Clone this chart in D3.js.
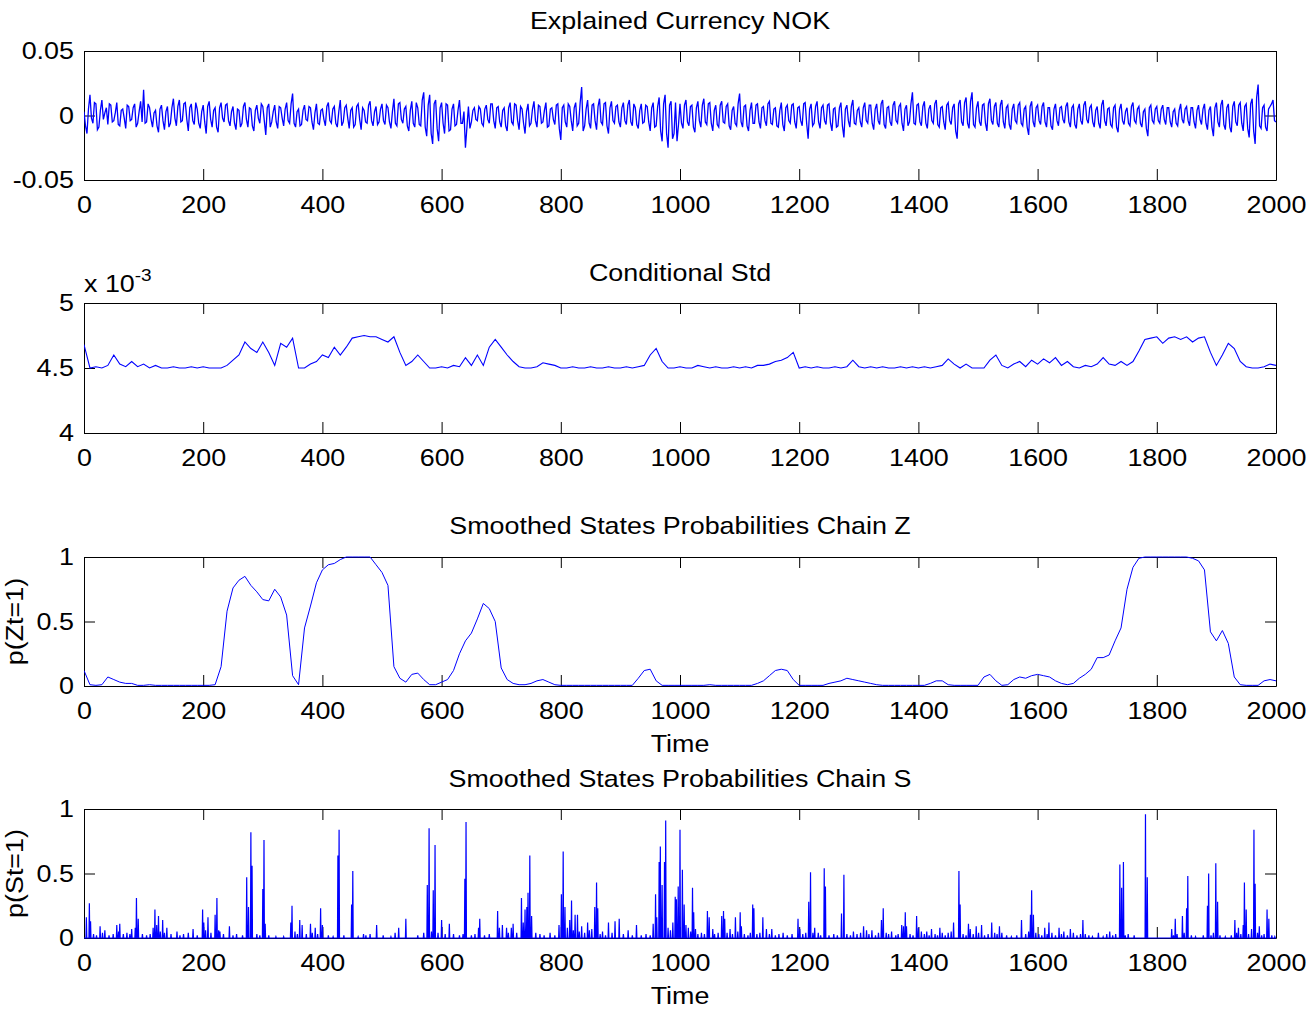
<!DOCTYPE html>
<html lang="en">
<head>
<meta charset="UTF-8">
<title>Explained Currency NOK</title>
<script src="https://cdn.jsdelivr.net/npm/d3@7"></script>
<style>
  body { margin: 0; background: #fff; }
  svg text { font-family: "Liberation Sans", Arial, Helvetica, sans-serif; fill: #000; }
</style>
</head>
<body>
<svg id="chart" width="1314" height="1011"></svg>
<script>
// x axis ticks shared by all panels
const timeTicks = [0, 200, 400, 600, 800, 1000, 1200, 1400, 1600, 1800, 2000];

// Explained currency, values in thousandths, at t = 0, 5, 10 ... 2000
const returnsMilli = [
  3, -14, 16, -6, 9, -9, 12, 2, -7, 8, -4, 10, -8, 5, -10, 7, -3, 9, -6, 11,
  20, -5, 6, -9, 4, -13, 8, -11, 7, -6, 13, -8, 12, -4, 10, -12, 9, -7, 5, -10,
  8, -14, 11, -9, 6, -13, 10, -5, 9, -8, 7, -11, 4, -6, 10, -9, 5, -12, 8, -6,
  7, -15, 9, -5, 8, -10, 6, -8, 10, -6, 17, -9, 5, -7, 8, -4, 6, -11, 9, -7,
  5, -8, 10, -6, 7, -9, 12, -5, 8, -10, 6, -7, 9, -11, 4, -6, 11, -8, 7, -5,
  9, -7, 6, -10, 13, -8, 10, -6, 7, -12, 11, -9, 6, -8, 18, -16, 16, -22, 12, -20,
  10, -14, 8, -11, 9, -7, 12, -6, -25, 7, -5, 6, -4, 5, -8, 8, -6, 9, -10, 7,
  -9, 6, -12, 10, -7, 8, -11, 5, -14, 9, -6, 11, -9, 7, -5, 10, -8, 6, -7, 9,
  -19, 8, -9, 7, -12, 10, -6, 22, -8, 12, -10, 9, -11, 13, -7, 10, -14, 11, -6, 8,
  -9, 10, -7, 12, -8, 6, -10, 9, -5, 7, -12, 10, -8, 14, -20, 16, -25, 11, -14, -20,
  9, -10, 12, -8, 8, -13, 11, -9, 13, -7, 10, -12, 8, -9, 11, -6, 9, -11, 7, -8,
  17, -9, 8, -12, 10, -6, 9, -10, 7, -8, 11, -7, 6, -9, 10, -12, 8, -6, 9, -10,
  7, -8, 10, -18, 9, -6, 11, -10, 8, -7, 9, -12, 6, -8, 10, -17, 8, -9, 12, -7,
  6, -9, 10, -6, 8, -11, 9, -7, 12, -10, 7, -8, 11, -6, 9, -12, 8, -5, 18, -7,
  9, -8, 11, -10, 8, -6, 12, -9, 7, -11, 10, -7, 9, -18, 12, -8, 14, -10, 18, -9,
  11, -8, 9, -12, 13, -7, 10, -9, 12, -10, 8, -11, 9, -6, 10, -8, 7, -15, 11, -9,
  8, -7, 10, -9, 6, -11, 9, -8, 7, -6, 10, -9, 8, -10, 9, -7, 11, -6, 8, -9,
  7, -10, 12, -8, 6, -9, 8, -13, 9, -7, 6, -8, 10, -6, 7, -9, 5, -16, 8, -6,
  7, -6, 8, -7, 6, -9, 5, -8, 9, -6, 7, -8, 6, -10, 8, -7, 9, -11, 7, -16,
  10, -9, 12, -11, 9, -13, 11, -8, 10, -12, 9, -17, 13, -22, 24, -10, 8, -12, 7, 12,
  -5
];

// the samples in between, at t = 2.5, 7.5 ... 1997.5 (thousandths)
const returnsMidMilli = [
  -8, 5, -2, 10, -11, 4, -3, 6, 9, -5, 2, -7, 4, -2, 8, -4, 6, -9, 3, -5,
  -6, 9, -3, 2, -8, 5, -4, 3, -9, 6, -2, 7, -5, 9, -3, 6, -4, 10, -6, 3,
  -5, 7, -3, 4, -9, 6, -2, 8, -4, 3, -6, 5, -9, 7, -3, 6, -8, 4, -2, 9,
  -4, 6, -9, 3, -5, 7, -2, 5, -4, 9, -6, 3, -8, 4, -3, 7, -5, 2, -6, 4,
  -3, 7, -4, 5, -6, 3, -8, 6, -2, 4, -9, 7, -3, 6, -5, 8, -4, 3, -7, 5,
  -4, 8, -5, 3, -6, 9, -3, 5, -8, 4, -6, 10, -7, 12, -9, 8, -14, 9, -10, 6,
  -6, 9, -12, 5, -8, 4, -6, 3, -9, -10, 4, -3, 7, -6, 5, -3, 9, -4, 6, -5,
  4, -8, 6, -5, 9, -4, 7, -6, 3, -8, 5, -4, 8, -6, 4, -9, 5, -3, 8, -10,
  6, -5, 9, -4, 6, -8, 10, -12, 5, -6, 8, -4, 7, -5, 9, -8, 6, -4, 7, -5,
  6, -4, 8, -5, 9, -7, 4, -6, 8, -5, 6, -9, 7, -12, 9, -14, 8, -18, 10, -7,
  -6, 8, -5, 7, -9, 6, -4, 8, -5, 9, -6, 4, -7, 8, -5, 7, -8, 4, -6, 9,
  -5, 7, -8, 4, -6, 8, -5, 6, -4, 9, -6, 5, -8, 4, -7, 6, -4, 8, -5, 6,
  -4, 9, -6, 5, -8, 7, -5, 6, -4, 8, -6, 5, -9, 6, -8, 5, -4, 7, -6, 4,
  -5, 6, -4, 8, -6, 5, -4, 9, -7, 6, -5, 8, -4, 7, -6, 5, -8, 9, -6, 8,
  -5, 7, -6, 5, -4, 9, -7, 6, -5, 8, -4, 6, -12, 9, -5, 10, -6, 11, -7, 6,
  -5, 8, -6, 9, -4, 7, -6, 8, -5, 6, -7, 5, -4, 8, -6, 5, -9, 7, -5, 6,
  -4, 7, -5, 6, -8, 5, -4, 6, -3, 7, -5, 6, -7, 5, -4, 8, -3, 6, -5, 4,
  -6, 8, -4, 5, -7, 6, -9, 5, -4, 3, -6, 7, -4, 5, -6, 3, -10, 6, -4, 5,
  -4, 5, -3, 6, -5, 3, -6, 4, -3, 5, -4, 6, -5, 4, -3, 5, -6, 4, -9, 6,
  -5, 8, -7, 6, -9, 7, -5, 8, -6, 7, -10, 9, -12, 14, -8, 6, -9, 5, 9, -4
];

// Conditional std (x 10^-3), one every 10 steps
const condStd = [
  4.68, 4.50, 4.51, 4.50, 4.52, 4.60, 4.53, 4.51, 4.55, 4.51,
  4.53, 4.50, 4.52, 4.50, 4.50, 4.51, 4.50, 4.50, 4.51, 4.50,
  4.51, 4.50, 4.50, 4.50, 4.52, 4.56, 4.60, 4.70, 4.65, 4.62,
  4.70, 4.62, 4.52, 4.69, 4.66, 4.73, 4.50, 4.50, 4.53, 4.55,
  4.60, 4.58, 4.66, 4.60, 4.66, 4.73, 4.74, 4.75, 4.74, 4.74,
  4.72, 4.70, 4.74, 4.62, 4.52, 4.55, 4.60, 4.55, 4.50, 4.50,
  4.51, 4.50, 4.52, 4.51, 4.58, 4.52, 4.60, 4.52, 4.66, 4.72,
  4.66, 4.60, 4.55, 4.51, 4.50, 4.50, 4.51, 4.54, 4.53, 4.52,
  4.50, 4.50, 4.51, 4.50, 4.50, 4.51, 4.50, 4.50, 4.51, 4.50,
  4.50, 4.51, 4.50, 4.51, 4.52, 4.60, 4.65, 4.55, 4.50, 4.50,
  4.51, 4.50, 4.50, 4.52, 4.51, 4.50, 4.51, 4.50, 4.50, 4.51,
  4.50, 4.51, 4.50, 4.52, 4.52, 4.53, 4.55, 4.56, 4.58, 4.62,
  4.50, 4.51, 4.50, 4.51, 4.50, 4.50, 4.51, 4.50, 4.51, 4.56,
  4.51, 4.50, 4.51, 4.50, 4.51, 4.50, 4.50, 4.51, 4.50, 4.51,
  4.50, 4.51, 4.50, 4.51, 4.52, 4.57, 4.53, 4.50, 4.53, 4.50,
  4.50, 4.50, 4.56, 4.60, 4.52, 4.50, 4.53, 4.55, 4.51, 4.56,
  4.53, 4.57, 4.54, 4.58, 4.52, 4.55, 4.51, 4.50, 4.52, 4.51,
  4.53, 4.58, 4.53, 4.52, 4.55, 4.52, 4.55, 4.63, 4.72, 4.73,
  4.74, 4.69, 4.73, 4.74, 4.72, 4.74, 4.70, 4.73, 4.74, 4.62,
  4.52, 4.60, 4.69, 4.65, 4.55, 4.51, 4.50, 4.50, 4.51, 4.53,
  4.52
];

// Smoothed p(Zt=1), one every 10 steps
const probZ = [
  0.12, 0.01, 0.005, 0.01, 0.07, 0.05, 0.03, 0.02, 0.02, 0.005,
  0.005, 0.01, 0.005, 0.005, 0.005, 0.005, 0.005, 0.005, 0.005, 0.005,
  0.005, 0.005, 0.01, 0.15, 0.58, 0.76, 0.82, 0.85, 0.78, 0.73,
  0.67, 0.66, 0.75, 0.69, 0.55, 0.08, 0.01, 0.45, 0.62, 0.80,
  0.90, 0.94, 0.95, 0.98, 1.0, 1.0, 1.0, 1.0, 1.0, 0.94,
  0.88, 0.78, 0.15, 0.06, 0.03, 0.09, 0.10, 0.05, 0.01, 0.01,
  0.03, 0.05, 0.12, 0.25, 0.35, 0.41, 0.52, 0.64, 0.60, 0.50,
  0.14, 0.05, 0.02, 0.01, 0.01, 0.02, 0.04, 0.05, 0.03, 0.01,
  0.005, 0.005, 0.005, 0.005, 0.005, 0.005, 0.005, 0.005, 0.005, 0.005,
  0.005, 0.005, 0.005, 0.06, 0.12, 0.13, 0.04, 0.005, 0.005, 0.005,
  0.005, 0.005, 0.005, 0.005, 0.005, 0.01, 0.005, 0.005, 0.005, 0.005,
  0.005, 0.005, 0.005, 0.02, 0.04, 0.08, 0.12, 0.13, 0.12, 0.05,
  0.005, 0.005, 0.005, 0.005, 0.005, 0.02, 0.03, 0.04, 0.06, 0.05,
  0.04, 0.03, 0.02, 0.01, 0.005, 0.005, 0.005, 0.005, 0.005, 0.005,
  0.005, 0.005, 0.02, 0.04, 0.04, 0.01, 0.005, 0.005, 0.005, 0.005,
  0.005, 0.07, 0.09, 0.04, 0.005, 0.01, 0.05, 0.07, 0.06, 0.08,
  0.09, 0.08, 0.07, 0.04, 0.02, 0.01, 0.02, 0.06, 0.09, 0.13,
  0.22, 0.22, 0.24, 0.35, 0.45, 0.75, 0.92, 0.99, 1.0, 1.0,
  1.0, 1.0, 1.0, 1.0, 1.0, 1.0, 0.99, 0.97, 0.90, 0.42,
  0.35, 0.43, 0.33, 0.07, 0.01, 0.005, 0.005, 0.005, 0.04, 0.05,
  0.04
];

// Smoothed p(St=1): [time, probability] for the non-zero spikes
const spikesS = [
  [4,.16],[9,.27],[11,.13],[16,.03],[21,.02],[27,.09],[31,.04],[35,.06],[42,.02],[49,.03],
  [55,.1],[58,.05],[60,.11],[66,.03],[72,.04],[77,.03],[80,.07],[86,.08],[88,.31],[91,.15],
  [98,.03],[105,.02],[111,.03],[116,.08],[119,.22],[122,.1],[125,.17],[128,.05],[132,.14],[135,.04],
  [139,.08],[146,.03],[156,.05],[161,.02],[167,.03],[175,.04],[183,.07],[190,.02],[199,.22],[201,.12],
  [204,.06],[208,.16],[213,.04],[220,.18],[223,.31],[226,.06],[228,.05],[234,.03],[244,.09],[250,.02],
  [256,.03],[266,.02],[273,.47],[276,.24],[280,.82],[282,.56],[290,.03],[295,.02],[300,.38],[302,.76],
  [304,.11],[310,.02],[322,.01],[335,.01],[347,.12],[349,.25],[354,.05],[358,.03],[362,.14],[366,.1],
  [373,.03],[380,.11],[383,.04],[388,.08],[392,.03],[397,.23],[400,.1],[410,.02],[418,.01],[426,.64],
  [428,.84],[436,.02],[449,.26],[451,.52],[460,.01],[469,.03],[473,.02],[480,.03],[491,.1],[502,.02],
  [515,.01],[522,.04],[528,.08],[540,.15],[560,.02],[570,.04],[576,.41],[579,.85],[583,.05],[586,.37],
  [589,.72],[594,.04],[600,.14],[606,.03],[613,.11],[620,.03],[630,.02],[636,.03],[639,.46],[641,.9],
  [650,.02],[656,.03],[662,.08],[664,.15],[672,.02],[680,.03],[694,.21],[697,.08],[702,.1],[709,.08],
  [712,.04],[717,.08],[720,.11],[726,.04],[734,.31],[737,.12],[740,.22],[743,.24],[745,.35],[748,.64],
  [751,.17],[758,.04],[765,.03],[772,.02],[782,.04],[790,.02],[797,.1],[801,.34],[804,.67],[807,.24],
  [811,.08],[815,.14],[818,.29],[821,.06],[824,.18],[828,.18],[831,.05],[835,.09],[840,.04],[845,.12],
  [848,.06],[852,.07],[857,.24],[860,.43],[862,.23],[866,.03],[870,.05],[875,.02],[880,.12],[886,.04],
  [891,.13],[898,.15],[905,.03],[913,.06],[920,.02],[927,.1],[935,.02],[943,.03],[950,.02],[955,.11],
  [959,.34],[961,.16],[965,.59],[967,.71],[970,.41],[974,.59],[976,.91],[980,.08],[984,.06],[988,.12],
  [992,.32],[994,.3],[997,.4],[1000,.84],[1004,.53],[1007,.26],[1010,.1],[1014,.08],[1018,.05],[1021,.39],
  [1023,.2],[1026,.07],[1030,.03],[1036,.04],[1041,.03],[1046,.21],[1049,.16],[1055,.07],[1058,.03],[1064,.04],
  [1070,.17],[1073,.21],[1075,.15],[1079,.04],[1084,.07],[1088,.03],[1093,.16],[1097,.05],[1101,.2],[1103,.09],
  [1108,.03],[1114,.02],[1118,.04],[1122,.26],[1124,.23],[1129,.03],[1134,.04],[1139,.16],[1145,.07],[1150,.03],
  [1154,.07],[1160,.02],[1166,.03],[1173,.04],[1180,.02],[1188,.03],[1198,.15],[1201,.07],[1206,.03],[1211,.04],
  [1216,.28],[1219,.51],[1223,.04],[1226,.08],[1232,.04],[1236,.02],[1242,.54],[1244,.4],[1250,.02],[1258,.03],
  [1264,.02],[1271,.19],[1275,.49],[1280,.03],[1286,.02],[1291,.05],[1297,.03],[1303,.04],[1308,.09],[1313,.06],
  [1317,.03],[1322,.06],[1328,.02],[1333,.04],[1338,.14],[1341,.23],[1346,.04],[1350,.03],[1355,.05],[1362,.02],
  [1366,.03],[1372,.1],[1375,.09],[1378,.2],[1380,.09],[1386,.03],[1391,.02],[1397,.17],[1400,.08],[1405,.05],
  [1410,.03],[1414,.05],[1418,.02],[1422,.07],[1428,.03],[1432,.02],[1436,.08],[1440,.04],[1445,.02],[1450,.04],
  [1455,.05],[1459,.12],[1468,.52],[1470,.26],[1475,.03],[1480,.02],[1484,.11],[1487,.07],[1492,.03],[1497,.09],
  [1501,.04],[1506,.1],[1511,.02],[1517,.03],[1523,.12],[1528,.04],[1532,.03],[1536,.09],[1540,.04],[1548,.02],
  [1556,.01],[1565,.02],[1573,.14],[1580,.03],[1585,.05],[1588,.18],[1590,.37],[1593,.18],[1597,.04],[1602,.03],
  [1607,.02],[1612,.08],[1616,.03],[1619,.12],[1624,.04],[1630,.02],[1636,.08],[1640,.03],[1644,.05],[1650,.02],
  [1655,.07],[1660,.04],[1666,.02],[1672,.03],[1676,.14],[1680,.03],[1686,.02],[1692,.01],[1702,.04],[1710,.01],
  [1716,.03],[1721,.05],[1726,.02],[1731,.03],[1738,.57],[1741,.39],[1744,.59],[1747,.02],[1752,.03],[1762,.02],
  [1781,.96],[1784,.47],[1825,.07],[1828,.02],[1831,.15],[1834,.03],[1843,.17],[1846,.04],[1850,.23],[1852,.48],
  [1858,.02],[1865,.01],[1878,.02],[1885,.25],[1887,.5],[1891,.02],[1895,.04],[1899,.58],[1902,.28],[1906,.02],
  [1915,.01],[1925,.02],[1931,.14],[1934,.04],[1937,.08],[1941,.03],[1945,.1],[1947,.43],[1950,.22],[1954,.03],
  [1959,.07],[1963,.84],[1965,.42],[1969,.04],[1972,.09],[1976,.02],[1980,.03],[1985,.22],[1988,.15],[1993,.02],
  [1998,.01]
];

const svg = d3.select("#chart");
const left = 84, plotW = 1192;
const SX = 1.12;          // the reference text is a little wider than plain Arial
const FS = 24;
const blue = "#0000ff";

const x = d3.scaleLinear().domain([0, 2000]).range([0, plotW]);

function styleAxis(sel) {
  sel.attr("font-size", FS).attr("font-family", null);
  sel.selectAll(".tick line").attr("stroke", "#000");
  sel.select(".domain").attr("stroke", "#000");
}

function drawPanel(p) {
  const g = svg.append("g").attr("transform", `translate(${left},${p.top})`);
  const y = d3.scaleLinear().domain(p.yDomain).range([p.h, 0]);

  g.append("clipPath").attr("id", "clip" + p.id)
    .append("rect").attr("x", 0).attr("y", -1).attr("width", plotW).attr("height", p.h + 3);

  // bottom + top x axes, ticks pointing inward
  g.append("g").attr("transform", `translate(0,${p.h})`)
    .call(d3.axisBottom(x).tickValues(timeTicks).tickSizeInner(-11).tickSizeOuter(0)
      .tickPadding(16).tickFormat(d3.format("d")))
    .call(styleAxis)
    .selectAll("text").attr("transform", `scale(${SX},1)`);
  g.append("g")
    .call(d3.axisTop(x).tickValues(timeTicks).tickSizeInner(-11).tickSizeOuter(0).tickFormat(""))
    .call(styleAxis);

  // left + right y axes
  g.append("g")
    .call(d3.axisLeft(y).tickValues(p.yTicks).tickSizeInner(-11).tickSizeOuter(0)
      .tickPadding(9).tickFormat(d => String(d)))
    .call(styleAxis)
    .selectAll("text").attr("transform", `scale(${SX},1)`);
  g.append("g").attr("transform", `translate(${plotW},0)`)
    .call(d3.axisRight(y).tickValues(p.yTicks).tickSizeInner(-11).tickSizeOuter(0).tickFormat(""))
    .call(styleAxis);

  // series
  g.append("path")
    .datum(p.points)
    .attr("clip-path", `url(#clip${p.id})`)
    .attr("fill", "none")
    .attr("stroke", blue)
    .attr("stroke-width", p.lw)
    .attr("stroke-linejoin", "miter")
    .attr("d", d3.line().x(d => x(d[0])).y(d => y(d[1])));

  // title
  svg.append("text")
    .attr("transform", `translate(${left + plotW / 2},${p.titleY}) scale(${SX},1)`)
    .attr("text-anchor", "middle").attr("font-size", FS)
    .text(p.title);

  if (p.ylabel) {
    svg.append("text")
      .attr("transform", `translate(23,${p.top + p.h / 2}) rotate(-90) scale(${SX},1)`)
      .attr("text-anchor", "middle").attr("font-size", FS)
      .text(p.ylabel);
  }
  if (p.xlabel) {
    svg.append("text")
      .attr("transform", `translate(${left + plotW / 2},${p.top + p.h + 66}) scale(${SX},1)`)
      .attr("text-anchor", "middle").attr("font-size", FS)
      .text(p.xlabel);
  }
  return g;
}

// build point lists
const retPoints = [];
returnsMilli.forEach((v, i) => {
  retPoints.push([i * 5, v / 1000]);
  if (i < returnsMidMilli.length) retPoints.push([i * 5 + 2.5, returnsMidMilli[i] / 1000]);
});
const stdPoints = condStd.map((v, i) => [i * 10, v]);
const zPoints = probZ.map((v, i) => [i * 10, v]);
const sPoints = [[0, 0]];
spikesS.forEach(([t, v]) => {
  sPoints.push([t - 0.7, 0], [t, v], [t + 0.7, 0]);
});
sPoints.push([2000, 0]);

drawPanel({ id: 1, top: 51, h: 129, yDomain: [-0.05, 0.05], yTicks: [-0.05, 0, 0.05],
  points: retPoints, lw: 1.3, title: "Explained Currency NOK", titleY: 29 });

drawPanel({ id: 2, top: 303, h: 130, yDomain: [4, 5], yTicks: [4, 4.5, 5],
  points: stdPoints, lw: 1.1, title: "Conditional Std", titleY: 281 });

// exponent label of panel 2
const expo = svg.append("text")
  .attr("transform", `translate(${left},292) scale(${SX},1)`)
  .attr("font-size", FS);
expo.append("tspan").text("x 10");
expo.append("tspan").attr("dy", -11).attr("font-size", 17).text("-3");

drawPanel({ id: 3, top: 557, h: 129, yDomain: [0, 1], yTicks: [0, 0.5, 1],
  points: zPoints, lw: 1, title: "Smoothed States Probabilities Chain Z", titleY: 534,
  ylabel: "p(Zt=1)", xlabel: "Time" });

drawPanel({ id: 4, top: 809, h: 129, yDomain: [0, 1], yTicks: [0, 0.5, 1],
  points: sPoints, lw: 1.2, title: "Smoothed States Probabilities Chain S", titleY: 787,
  ylabel: "p(St=1)", xlabel: "Time" });
</script>
</body>
</html>
